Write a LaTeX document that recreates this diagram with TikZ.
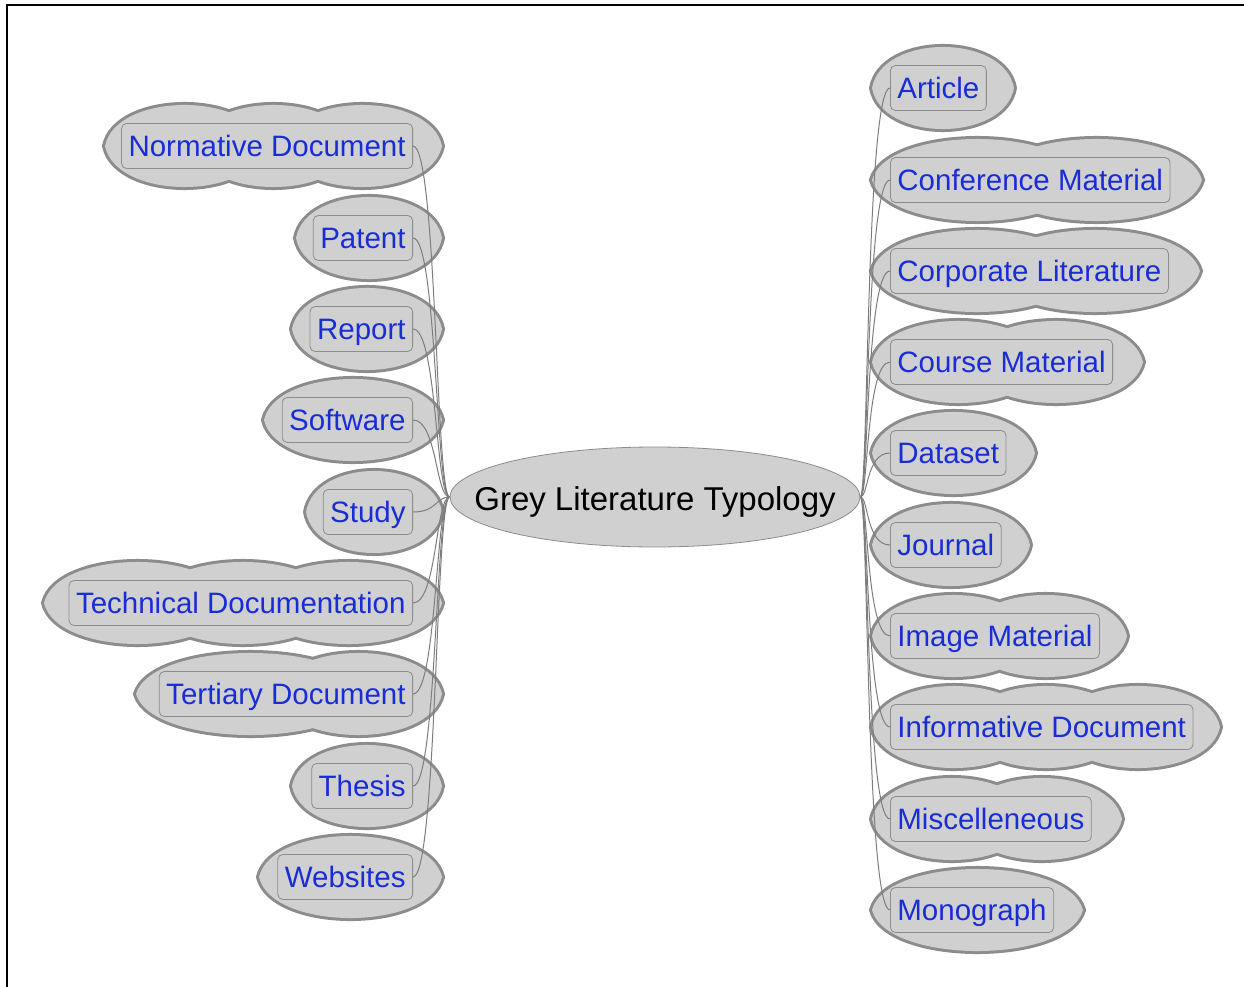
\documentclass[tikz,border=0pt]{standalone}
\usepackage{fontspec}
\setmainfont{Liberation Sans}
\usetikzlibrary{shapes.geometric}
\definecolor{bubblefill}{RGB}{208,208,208}
\definecolor{bubbleline}{RGB}{140,140,140}
\definecolor{txtblue}{RGB}{25,45,215}
\definecolor{linkgray}{RGB}{125,125,125}
\tikzset{
  lobestroke/.style={draw=bubbleline, line width=6pt},
  lobefill/.style={fill=bubblefill},
  leaf/.style={draw=bubbleline, line width=0.8pt, fill=bubblefill, rounded corners=5pt,
    text=txtblue, font=\fontsize{29.5}{32}\selectfont, minimum height=45pt,
    text height=25pt, text depth=4pt, inner xsep=7pt, inner ysep=0pt},
  root/.style={ellipse, draw=bubbleline, line width=0.8pt, fill=bubblefill,
    minimum width=410pt, minimum height=100pt, inner xsep=-40pt, inner ysep=5pt,
    text height=30pt, text depth=3.4pt,
    font=\fontsize{33}{36}\selectfont, text=black},
  link/.style={draw=linkgray, line width=1pt},
  frameline/.style={draw=black, line width=2pt}
}
\begin{document}
\begin{tikzpicture}[x=1pt,y=-1pt]
\useasboundingbox (0,0) rectangle (1244,987);
\fill[white] (0,0) rectangle (1244,987);
\draw[frameline] (7,987) -- (7,5) -- (1244,5);
% cloud lobes: stroke pass then fill pass (gives union outline)
\def\lobes{105/264/146, 194/353/146, 283/442/146,
  296/442/238, 292/442/329, 264/442/420, 306/442/512,
  44/231/603, 149/337/603, 255/442/603,
  136/365/694, 275/442/694, 292/442/786, 259/442/877,
  872/1014/88, 872/1083/180, 991/1202/180, 872/1082/271, 990/1200/271,
  872/1045/362, 969/1143/362, 872/1035/453, 872/1030/545,
  872/1035/636, 964/1127/636, 872/1036/727, 964/1128/727, 1056/1220/727,
  872/1032/819, 962/1122/819, 872/1083/910}
\foreach \a/\b/\y in \lobes {
  \path[lobestroke] (\a,\y) .. controls ({\a+0.07*(\b-\a)},{\y-54.7}) and ({\b-0.07*(\b-\a)},{\y-54.7}) .. (\b,\y)
    .. controls ({\b-0.07*(\b-\a)},{\y+54.7}) and ({\a+0.07*(\b-\a)},{\y+54.7}) .. cycle;
}
\foreach \a/\b/\y in \lobes {
  \path[lobefill] (\a,\y) .. controls ({\a+0.07*(\b-\a)},{\y-54.7}) and ({\b-0.07*(\b-\a)},{\y-54.7}) .. (\b,\y)
    .. controls ({\b-0.07*(\b-\a)},{\y+54.7}) and ({\a+0.07*(\b-\a)},{\y+54.7}) .. cycle;
}
% central node
\node[root] (c) at (655,497) {Grey Literature Typology};
% left leaves
\node[leaf, anchor=east] (l1) at (413,146) {Normative Document};
\node[leaf, anchor=east] (l2) at (413,238) {Patent};
\node[leaf, anchor=east] (l3) at (413,329) {Report};
\node[leaf, anchor=east] (l4) at (413,420) {Software};
\node[leaf, anchor=east] (l5) at (413,512) {Study};
\node[leaf, anchor=east] (l6) at (413,603) {Technical Documentation};
\node[leaf, anchor=east] (l7) at (413,694) {Tertiary Document};
\node[leaf, anchor=east] (l8) at (413,786) {Thesis};
\node[leaf, anchor=east] (l9) at (413,877) {Websites};
% right leaves
\node[leaf, anchor=west] (r1) at (890,88) {Article};
\node[leaf, anchor=west] (r2) at (890,180) {Conference Material};
\node[leaf, anchor=west] (r3) at (890,271) {Corporate Literature};
\node[leaf, anchor=west] (r4) at (890,362) {Course Material};
\node[leaf, anchor=west] (r5) at (890,453) {Dataset};
\node[leaf, anchor=west] (r6) at (890,545) {Journal};
\node[leaf, anchor=west] (r7) at (890,636) {Image Material};
\node[leaf, anchor=west] (r8) at (890,727) {Informative Document};
\node[leaf, anchor=west] (r9) at (890,819) {Miscelleneous};
\node[leaf, anchor=west] (r10) at (890,910) {Monograph};
% connectors
\foreach \n in {l1,l2,l3,l4,l5,l6,l7,l8,l9}
  \draw[link] (c.west) .. controls +(-14,0) and +(24,0) .. (\n.east);
\foreach \n in {r1,r2,r3,r4,r5,r6,r7,r8,r9,r10}
  \draw[link] (c.east) .. controls +(8,0) and +(-24,0) .. (\n.west);
\end{tikzpicture}
\end{document}
